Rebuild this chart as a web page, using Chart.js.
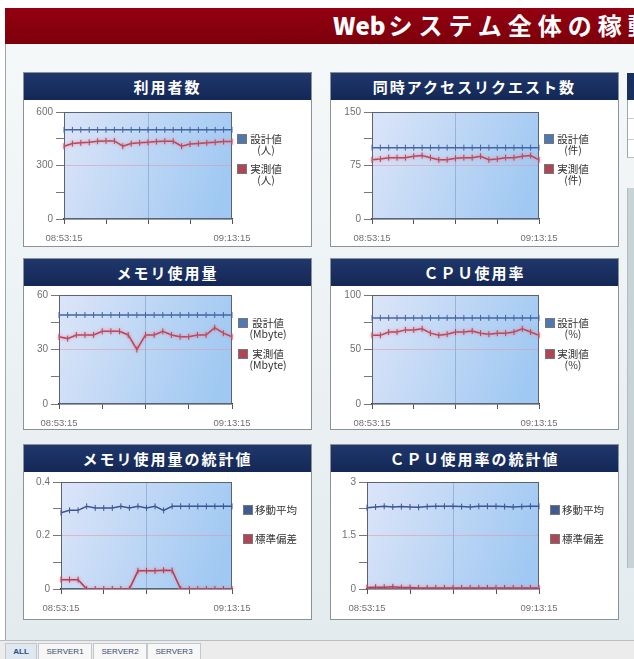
<!DOCTYPE html>
<html>
<head>
<meta charset="utf-8">
<script src="https://cdn.jsdelivr.net/npm/chart.js@4.4.1/dist/chart.umd.min.js"></script>
<style>
  html, body { margin: 0; padding: 0; width: 634px; height: 659px; overflow: hidden; background: #fff;
    font-family: "Noto Sans CJK JP", "Noto Sans", sans-serif; }
  #header { position: absolute; left: 5px; top: 8px; width: 629px; height: 36px; overflow: hidden;
    background: linear-gradient(#930012, #7c000a); }
  #header span { position: absolute; left: 328px; top: 2px; line-height: 30px; color: #fff; font-weight: bold; font-size: 24px;
    letter-spacing: 6px; white-space: nowrap; }
  #header b { letter-spacing: 0; margin-right: 3px; }
  #content { position: absolute; left: 5px; top: 44px; width: 629px; height: 596px;
    background: linear-gradient(#f5f8f9, #e3ebee); border-left: 1px solid #9aa4aa; }
  .panel { position: absolute; width: 287px; background: #fff; border: 1px solid #8b9298; }
  .panel .title { height: 27px; line-height: 27px; background: linear-gradient(#1f376b, #142856);
    color: #fff; font-weight: bold; font-size: 15px; letter-spacing: 2px; text-align: center; white-space: nowrap; }
  .panel canvas { display: block; }
  #side { position: absolute; left: 627px; top: 73px; width: 10px; }
  #tabs { position: absolute; left: 0; top: 640px; width: 634px; height: 19px; background: #ececec; border-top: 1px solid #b6bec3; }
  .tab { position: absolute; top: 2px; height: 16px; line-height: 16px; font-size: 8px; text-align: center;
    font-family: "Liberation Sans", sans-serif; color: #3a4a70; background: #f7f7f7; border: 1px solid #c4c8cc; border-bottom: none; }
  .tab.sel { background: #dfe8f1; font-weight: bold; color: #2a4a86; }
</style>
</head>
<body>
<div id="header"><span><b>Web</b>システム全体の稼動状況</span></div>
<div id="content"></div>

<div class="panel" style="left:23px; top:72px;"><div class="title">利用者数</div><canvas id="c1" width="287" height="146"></canvas></div>
<div class="panel" style="left:330px; top:72px;"><div class="title">同時アクセスリクエスト数</div><canvas id="c2" width="287" height="146"></canvas></div>
<div class="panel" style="left:23px; top:258px;"><div class="title">メモリ使用量</div><canvas id="c3" width="287" height="143"></canvas></div>
<div class="panel" style="left:330px; top:258px;"><div class="title">ＣＰＵ使用率</div><canvas id="c4" width="287" height="143"></canvas></div>
<div class="panel" style="left:23px; top:444px;"><div class="title">メモリ使用量の統計値</div><canvas id="c5" width="287" height="147"></canvas></div>
<div class="panel" style="left:330px; top:444px;"><div class="title">ＣＰＵ使用率の統計値</div><canvas id="c6" width="287" height="147"></canvas></div>

<div id="side">
  <div style="height:27px; background:#17305f;"></div>
  <div style="height:57px; background:#fff; border-left:1px solid #9aa; border-bottom:1px solid #bbb;">
    <div style="height:18px; border-bottom:1px solid #ccc;"></div>
    <div style="height:20px; border-bottom:1px solid #ccc;"></div>
  </div>
  <div style="margin-top:30px; height:380px; background:#c8d3d8; border-left:1px solid #b0bcc2;"></div>
</div>

<div id="tabs">
  <span class="tab sel" style="left:5px; width:30px;">ALL</span>
  <span class="tab" style="left:38px; width:52px;">SERVER1</span>
  <span class="tab" style="left:93px; width:52px;">SERVER2</span>
  <span class="tab" style="left:147px; width:52px;">SERVER3</span>
</div>

<script>
// 1分ごとの時刻（08:53:15 〜 09:13:15）
const timeLabels = ['08:53:15', '08:54:15', '08:55:15', '08:56:15', '08:57:15', '08:58:15', '08:59:15',
  '09:00:15', '09:01:15', '09:02:15', '09:03:15', '09:04:15', '09:05:15', '09:06:15', '09:07:15',
  '09:08:15', '09:09:15', '09:10:15', '09:11:15', '09:12:15', '09:13:15'];

const usersDesign = [500, 500, 500, 500, 500, 500, 500, 500, 500, 500, 500, 500, 500, 500, 500, 500, 500, 500, 500, 500, 500];
const usersActual = [408, 423, 427, 430, 436, 438, 438, 408, 423, 427, 430, 434, 436, 436, 408, 420, 423, 427, 430, 434, 434];

const requestsDesign = [100, 100, 100, 100, 100, 100, 100, 100, 100, 100, 100, 100, 100, 100, 100, 100, 100, 100, 100, 100, 100];
const requestsActual = [83, 84, 86, 86, 86, 88, 89, 86, 83, 83, 85, 86, 86, 88, 83, 84, 86, 86, 88, 89, 83];

const memoryDesign = [49, 49, 49, 49, 49, 49, 49, 49, 49, 49, 49, 49, 49, 49, 49, 49, 49, 49, 49, 49, 49];
const memoryActual = [37, 36, 38, 38, 38, 40, 40, 40, 38, 30, 38, 38, 40, 38, 37, 37, 38, 38, 42, 39, 37];

const cpuDesign = [79, 79, 79, 79, 79, 79, 79, 79, 79, 79, 79, 79, 79, 79, 79, 79, 79, 79, 79, 79, 79];
const cpuActual = [63, 63, 66, 66, 68, 68, 69, 65, 63, 64, 66, 66, 67, 65, 64, 65, 65, 66, 69, 66, 63];

const memoryAvg = [0.285, 0.294, 0.294, 0.309, 0.303, 0.303, 0.303, 0.309, 0.303, 0.309, 0.303,
  0.309, 0.294, 0.309, 0.309, 0.309, 0.309, 0.309, 0.309, 0.309, 0.309];
const memorySd = [0.035, 0.035, 0.035, 0, 0, 0, 0, 0, 0, 0.068, 0.068, 0.068, 0.07, 0.069, 0, 0, 0, 0, 0, 0, 0];

const cpuAvg = [2.28, 2.3, 2.32, 2.3, 2.31, 2.3, 2.29, 2.31, 2.32, 2.32, 2.32, 2.31, 2.3, 2.32, 2.32, 2.32, 2.31, 2.3, 2.31, 2.32, 2.32];
const cpuSd = [0.04, 0.05, 0.05, 0.06, 0.04, 0.04, 0.03, 0.03, 0.03, 0.03, 0.03, 0.03, 0.03, 0.03, 0.03, 0.03, 0.03, 0.03, 0.03, 0.03, 0.03];

// y軸の目盛り（下から）
const usersTicks = ['0', '300', '600'];
const requestsTicks = ['0', '75', '150'];
const memoryTicks = ['0', '30', '60'];
const cpuTicks = ['0', '50', '100'];
const memoryStatTicks = ['0', '0.2', '0.4'];
const cpuStatTicks = ['0', '1.5', '3'];

const usersNames = ['設計値\n(人)', '実測値\n(人)'];
const requestsNames = ['設計値\n(件)', '実測値\n(件)'];
const memoryNames = ['設計値\n(Mbyte)', '実測値\n(Mbyte)'];
const cpuNames = ['設計値\n(%)', '実測値\n(%)'];
const statNames = ['移動平均', '標準偏差'];

// 描画エリアの背景・枠・凡例
const panelPlugin = {
  id: 'panel',
  beforeDraw(chart) {
    const { ctx, chartArea: a } = chart;
    const g = ctx.createLinearGradient(a.left, a.top, a.right, a.top + (a.bottom - a.top) * 0.6);
    g.addColorStop(0, '#dce5f8');
    g.addColorStop(1, '#9fc8f2');
    ctx.save();
    ctx.fillStyle = g;
    ctx.fillRect(a.left, a.top, a.right - a.left, a.bottom - a.top);
    ctx.restore();
  },
  beforeDatasetsDraw(chart) {
    const { ctx, chartArea: a } = chart;
    ctx.save();
    ctx.strokeStyle = '#5b6373';
    ctx.lineWidth = 1;
    ctx.strokeRect(a.left + 0.5, a.top + 0.5, a.right - a.left - 1, a.bottom - a.top - 1);
    ctx.restore();
  },
  beforeDatasetDraw(chart, args) {
    if (args.index === 1) {
      chart.ctx.save();
      chart.ctx.shadowColor = 'rgba(240,130,150,0.9)';
      chart.ctx.shadowBlur = 3;
    }
  },
  afterDatasetDraw(chart, args) {
    if (args.index === 1) chart.ctx.restore();
  },
  afterDraw(chart, args, opts) {
    const { ctx, chartArea: a } = chart;
    ctx.save();
    ctx.font = '10.5px "Noto Sans CJK JP"';
    ctx.textBaseline = 'middle';
    chart.data.datasets.forEach((ds, i) => {
      const x = a.right + opts.boxX;
      const y = a.top + opts.boxY + i * opts.gap;
      ctx.fillStyle = ds.boxColor;
      ctx.fillRect(x - 4.5, y - 4.5, 9, 9);
      ctx.strokeStyle = '#777';
      ctx.strokeRect(x - 4.5, y - 4.5, 9, 9);
      ctx.fillStyle = '#333';
      const lines = ds.label.split('\n');
      if (lines.length > 1) {
        ctx.textAlign = 'center';
        lines.forEach((t, k) => ctx.fillText(t, a.right + opts.textX, y + k * 11));
      } else {
        ctx.textAlign = 'left';
        ctx.fillText(lines[0], x + 7, y);
      }
    });
    ctx.restore();
  }
};

function makeChart(id, values, names, yMax, yTicks, box, stat) {
  const canvas = document.getElementById(id);
  const h = canvas.height;
  const blue = stat ? '#3a5594' : '#4464a2';
  const red = stat ? '#b03c52' : '#b4475c';
  return new Chart(canvas, {
    type: 'line',
    data: {
      labels: timeLabels,
      datasets: [
        { label: names[0], data: values[0], borderColor: blue, borderWidth: 1.5, boxColor: stat ? '#3f5b92' : '#5078b0',
          pointStyle: 'line', rotation: 90, pointRadius: 3, pointBorderColor: blue, pointBorderWidth: 1 },
        { label: names[1], data: values[1], borderColor: red, borderWidth: 1.5, boxColor: '#b04553',
          pointStyle: 'line', rotation: 90, pointRadius: 3, pointBorderColor: red, pointBorderWidth: 1 }
      ]
    },
    options: {
      responsive: false,
      animation: false,
      layout: { padding: { left: 0, top: box.top, right: 287 - 208, bottom: 0 } },
      plugins: {
        legend: { display: false },
        tooltip: { enabled: false },
        panel: box.legend
      },
      scales: {
        x: {
          afterFit: (s) => { s.height = h - box.bottom; },
          border: { color: '#2e3a55', width: 1.5 },
          grid: {
            color: (c) => c.index === 10 ? 'rgba(130,155,195,0.6)' : 'transparent',
            tickColor: (c) => c.index % 5 === 0 ? '#555' : 'transparent',
            tickLength: 5
          },
          ticks: {
            autoSkip: false, maxRotation: 0, padding: 9,
            color: '#707070', font: { family: 'Liberation Sans', size: 9.5 },
            callback: (v, i) => (i === 0 || i === timeLabels.length - 1) ? timeLabels[i] : ''
          }
        },
        y: {
          min: 0, max: yMax,
          afterFit: (s) => { s.width = box.left; },
          afterBuildTicks: (s) => { s.ticks = [0, 1, 2, 3, 4].map(k => ({ value: yMax * k / 4 })); },
          border: { color: '#5b6373' },
          grid: {
            color: (c) => c.index === 2 ? 'rgba(225,150,170,0.55)' : 'transparent',
            tickColor: '#777',
            tickLength: 8
          },
          ticks: {
            padding: 3,
            color: '#707070', font: { family: 'Liberation Sans', size: 10 },
            callback: (v, i) => i % 2 === 0 ? yTicks[i / 2] : ''
          }
        }
      }
    },
    plugins: [panelPlugin]
  });
}

const pairLegend = { boxX: 10, boxY: 27, gap: 30, textX: 34 };
const statLegend = { boxX: 16, boxY: 28, gap: 29, textX: 0 };

makeChart('c1', [usersDesign, usersActual], usersNames, 600, usersTicks, { left: 40, top: 12, bottom: 119, legend: pairLegend });
makeChart('c2', [requestsDesign, requestsActual], requestsNames, 150, requestsTicks, { left: 41, top: 12, bottom: 119, legend: pairLegend });
makeChart('c3', [memoryDesign, memoryActual], memoryNames, 60, memoryTicks, { left: 35, top: 9, bottom: 118, legend: { boxX: 11, boxY: 28, gap: 31, textX: 36 } });
makeChart('c4', [cpuDesign, cpuActual], cpuNames, 100, cpuTicks, { left: 41, top: 9, bottom: 118, legend: { boxX: 11, boxY: 28, gap: 31, textX: 34 } });
makeChart('c5', [memoryAvg, memorySd], statNames, 0.4, memoryStatTicks, { left: 37, top: 10, bottom: 117, legend: statLegend }, true);
makeChart('c6', [cpuAvg, cpuSd], statNames, 3, cpuStatTicks, { left: 36, top: 10, bottom: 117, legend: statLegend }, true);
</script>
</body>
</html>
